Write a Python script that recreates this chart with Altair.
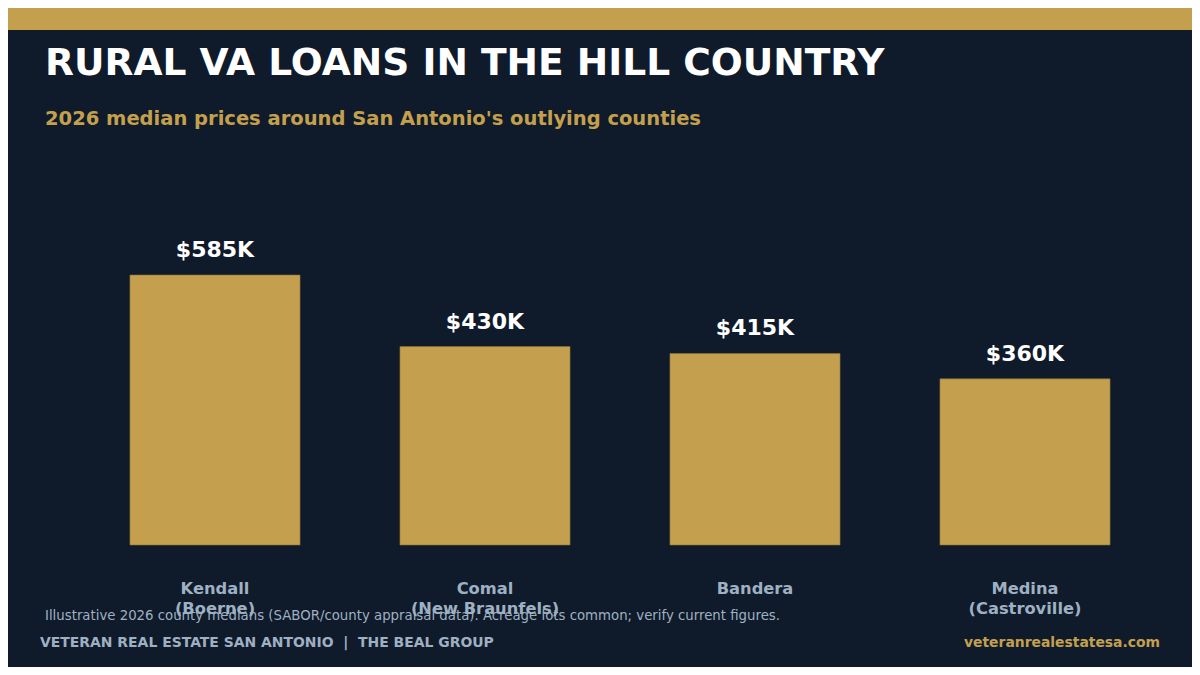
import altair as alt
import pandas as pd

counties = ["Kendall\n(Boerne)", "Comal\n(New Braunfels)", "Bandera", "Medina\n(Castroville)"]
prices_k = [585, 430, 415, 360]
value_labels = ["$585K", "$430K", "$415K", "$360K"]

title_text = "RURAL VA LOANS IN THE HILL COUNTRY"
subtitle_text = "2026 median prices around San Antonio's outlying counties"
note_text = "Illustrative 2026 county medians (SABOR/county appraisal data). Acreage lots common; verify current figures."
brand_text = "VETERAN REAL ESTATE SAN ANTONIO\u00a0\u00a0|\u00a0\u00a0THE BEAL GROUP"
url_text = "veteranrealestatesa.com"

BG = "#0f1b2a"
GOLD = "#c4a04e"
GRAY = "#9fb0c2"
FONT = "DejaVu Sans"

df = pd.DataFrame({"county": counties, "price": prices_k, "label": value_labels, "zero": [0] * 4})

x = alt.X("county:N", sort=counties, axis=None,
          scale=alt.Scale(paddingInner=0.37, paddingOuter=0.185))
y_scale = alt.Scale(domain=[0, 780])

base = alt.Chart(df)

bars = base.mark_bar(color=GOLD, stroke="#8a7038", strokeWidth=0.6).encode(
    x=x, y=alt.Y("price:Q", scale=y_scale, axis=None)
)

vals = base.mark_text(color="white", font=FONT, fontWeight="bold", fontSize=22,
                      baseline="alphabetic", dy=-18).encode(
    x=x, y=alt.Y("price:Q", scale=y_scale), text="label:N"
)

cats = base.mark_text(color=GRAY, font=FONT, fontWeight="bold", fontSize=16.3,
                      baseline="alphabetic", lineBreak="\n", lineHeight=20, dy=49).encode(
    x=x, y=alt.Y("zero:Q", scale=y_scale), text="county:N"
)

band = alt.Chart(df).mark_rect(color=GOLD).encode(
    x=alt.value(-80), x2=alt.value(1120), y=alt.value(-185), y2=alt.value(-155)
)

def annot(text, xv, yv, size, color, weight="normal", align="left", baseline="alphabetic"):
    return alt.Chart(pd.DataFrame({"t": [text]})).mark_text(
        font=FONT, fontSize=size, color=color, fontWeight=weight,
        align=align, baseline=baseline
    ).encode(x=alt.value(xv), y=alt.value(yv), text="t:N")

title = annot(title_text, -35, -110, 37.6, "white", "bold")
subtitle = annot(subtitle_text, -35, -60, 19.5, GOLD, "bold")
note = annot(note_text, -35, 431, 13.3, GRAY, "normal", baseline="middle")
brand = annot(brand_text, -40, 458, 13.95, GRAY, "bold", baseline="middle")
url = annot(url_text, 1080, 458, 13.9, GOLD, "bold", align="right", baseline="middle")

chart = alt.layer(band, bars, vals, cats, title, subtitle, note, brand, url).properties(
    width=1080, height=360,
    autosize=alt.AutoSizeParams(type="none"),
    padding={"left": 72, "top": 177, "right": 32, "bottom": 122},
    background=BG,
).configure_view(stroke=None)

chart.save("out.html", embed_options={"renderer": "svg", "actions": False})
